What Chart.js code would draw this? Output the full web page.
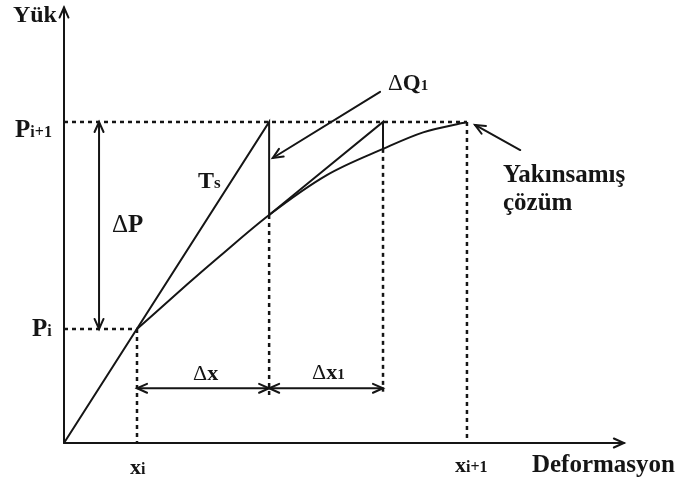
<!DOCTYPE html>
<html>
<head>
<meta charset="utf-8">
<script src="https://cdn.jsdelivr.net/npm/chart.js"></script>
<style>
    body { margin: 0; background: #fff; }
    #wrap { width: 680px; height: 488px; }
</style>
</head>
<body>
<div id="wrap"><canvas id="diagram"></canvas></div>
<script>
// Load-deformation curve (converged solution) from Pi onwards, Pi = 1, xi = 1
const curveDeform = [1, 1.685, 2.137, 2.81, 3.60, 4.37, 4.92, 5.52];
const curveLoad   = [1, 1.39, 1.64, 2.0, 2.35, 2.58, 2.725, 2.816];

// Iteration path: tangent Ts, correction dQ1, second tangent
const stepDeform = [0, 2.81, 2.81, 4.37, 4.37];
const stepLoad   = [0, 2.816, 2.0, 2.816, 2.58];

// Load levels Pi, Pi+1 and deformations xi, xi+1
const loadLevels   = [1, 2.816];
const deformLevels = [1, 5.52];

const ink = '#151515';
const serif = '"Liberation Serif", "Times New Roman", serif';

function toPoints(xs, ys) {
    return xs.map((x, i) => ({ x: x, y: ys[i] }));
}

function lineSet(points, dashed) {
    return {
        data: points,
        showLine: true,
        borderColor: ink,
        borderWidth: dashed ? 2.5 : 2,
        borderDash: dashed ? [4, 4] : [],
        pointRadius: 0,
        tension: 0
    };
}

// Guides
const guides = [
    [{ x: 0, y: loadLevels[0] }, { x: deformLevels[0], y: loadLevels[0] }],
    [{ x: deformLevels[0], y: loadLevels[0] }, { x: deformLevels[0], y: 0 }],
    [{ x: 0, y: loadLevels[1] }, { x: deformLevels[1], y: loadLevels[1] }],
    [{ x: deformLevels[1], y: loadLevels[1] }, { x: deformLevels[1], y: 0 }],
    [{ x: stepDeform[2], y: stepLoad[2] }, { x: stepDeform[2], y: 0.4 }],
    [{ x: stepDeform[4], y: stepLoad[4] }, { x: stepDeform[4], y: 0.45 }]
];

// Arrows (data units)
const arrows = [
    { from: [0, 0], to: [0, 3.82], heads: 'end' },
    { from: [0, 0], to: [7.67, 0], heads: 'end' },
    { from: [0.48, loadLevels[0]], to: [0.48, loadLevels[1]], heads: 'both' },
    { from: [deformLevels[0], 0.48], to: [stepDeform[1], 0.48], heads: 'both' },
    { from: [stepDeform[1], 0.48], to: [stepDeform[3], 0.48], heads: 'both' },
    { from: [4.33, 3.08], to: [2.86, 2.5], heads: 'end' },
    { from: [6.25, 2.57], to: [5.63, 2.79], heads: 'end' }
];

// Text labels: parts drawn left to right on one baseline
const labels = [
    { at: [-0.70, 3.69], parts: [['Yük', 24, 'bold']] },
    { at: [-0.67, 2.684], parts: [['P', 25, 'bold'], ['i+1', 16, 'bold']] },
    { at: [-0.438, 0.939], parts: [['P', 25, 'bold'], ['i', 16, 'bold']] },
    { at: [0.658, 1.851], parts: [['Δ', 25, 'normal'], ['P', 25, 'bold']] },
    { at: [1.836, 2.237], parts: [['T', 24, 'bold'], ['s', 17, 'bold']] },
    { at: [4.438, 3.096], parts: [['Δ', 23, 'normal'], ['Q', 23, 'bold'], ['1', 15, 'bold']] },
    { at: [1.767, 0.553], parts: [['Δ', 22, 'normal'], ['x', 22, 'bold']] },
    { at: [3.397, 0.561], parts: [['Δ', 22, 'normal'], ['x', 22, 'bold'], ['1', 15, 'bold']] },
    { at: [0.904, -0.272], parts: [['x', 22, 'bold'], ['i', 16, 'bold']] },
    { at: [5.356, -0.254], parts: [['x', 22, 'bold'], ['i+1', 16, 'bold']] },
    { at: [6.41, -0.254], parts: [['Deformasyon', 25, 'bold']] },
    { at: [6.014, 2.289], parts: [['Yakınsamış', 25, 'bold']] },
    { at: [6.014, 2.044], parts: [['çözüm', 25, 'bold']] }
];

function drawHead(ctx, x1, y1, x2, y2) {
    const ang = Math.atan2(y2 - y1, x2 - x1);
    const len = 11, spread = 0.42;
    ctx.beginPath();
    ctx.moveTo(x2 - len * Math.cos(ang - spread), y2 - len * Math.sin(ang - spread));
    ctx.lineTo(x2, y2);
    ctx.lineTo(x2 - len * Math.cos(ang + spread), y2 - len * Math.sin(ang + spread));
    ctx.stroke();
}

const annotatePlugin = {
    id: 'annotate',
    afterDatasetsDraw(chart) {
        const ctx = chart.ctx;
        const sx = chart.scales.x, sy = chart.scales.y;
        const px = v => sx.getPixelForValue(v);
        const py = v => sy.getPixelForValue(v);

        ctx.save();
        ctx.strokeStyle = ink;
        ctx.lineWidth = 2;
        ctx.lineCap = 'round';
        ctx.setLineDash([]);

        arrows.forEach(a => {
            const x1 = px(a.from[0]), y1 = py(a.from[1]);
            const x2 = px(a.to[0]), y2 = py(a.to[1]);
            ctx.beginPath();
            ctx.moveTo(x1, y1);
            ctx.lineTo(x2, y2);
            ctx.stroke();
            drawHead(ctx, x1, y1, x2, y2);
            if (a.heads === 'both') drawHead(ctx, x2, y2, x1, y1);
        });

        ctx.fillStyle = ink;
        ctx.textBaseline = 'alphabetic';
        ctx.textAlign = 'left';
        labels.forEach(l => {
            let x = px(l.at[0]);
            const y = py(l.at[1]);
            l.parts.forEach(p => {
                ctx.font = p[2] + ' ' + p[1] + 'px ' + serif;
                ctx.fillText(p[0], x, y);
                x += ctx.measureText(p[0]).width;
            });
        });
        ctx.restore();
    }
};

const datasets = [];
datasets.push(Object.assign(lineSet(toPoints(curveDeform, curveLoad), false), {
    cubicInterpolationMode: 'monotone'
}));
datasets.push(lineSet(toPoints(stepDeform, stepLoad), false));
guides.forEach(g => datasets.push(lineSet(g, true)));

new Chart(document.getElementById('diagram'), {
    type: 'scatter',
    data: { datasets: datasets },
    options: {
        responsive: true,
        maintainAspectRatio: false,
        animation: false,
        layout: { padding: 0 },
        plugins: {
            legend: { display: false },
            tooltip: { enabled: false }
        },
        scales: {
            x: { type: 'linear', display: false, min: -64 / 73, max: -64 / 73 + 680 / 73 },
            y: { type: 'linear', display: false, min: -45 / 114, max: -45 / 114 + 488 / 114 }
        }
    },
    plugins: [annotatePlugin]
});
</script>
</body>
</html>
